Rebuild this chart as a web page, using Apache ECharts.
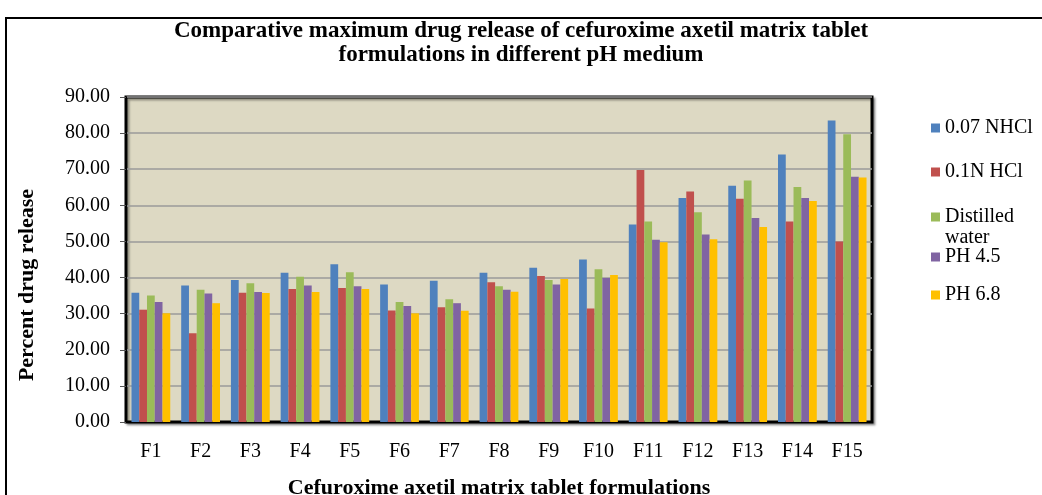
<!DOCTYPE html>
<html>
<head>
<meta charset="utf-8">
<script src="https://cdn.jsdelivr.net/npm/echarts@6/dist/echarts.min.js"></script>
<style>
html,body{margin:0;padding:0;background:#fff;}
#chart{width:1042px;height:495px;}
</style>
</head>
<body>
<div id="chart"></div>
<script>
const categories = ['F1','F2','F3','F4','F5','F6','F7','F8','F9','F10','F11','F12','F13','F14','F15'];
const seriesNames = ['0.07 NHCl','0.1N HCl','Distilled water','PH 4.5','PH 6.8'];
const nhcl007 = [35.8,37.8,39.3,41.3,43.7,38.1,39.1,41.3,42.7,45.0,54.7,62.0,65.4,74.1,83.5];
const nhcl01  = [31.1,24.6,35.8,36.8,37.1,30.9,31.8,38.7,40.4,31.4,69.8,63.8,61.8,55.5,50.0];
const water   = [35.0,36.6,38.4,40.2,41.5,33.2,34.0,37.6,39.3,42.3,55.5,58.1,66.9,65.1,79.7];
const ph45    = [33.2,35.6,36.0,37.8,37.6,32.1,32.9,36.6,38.1,39.9,50.5,51.9,56.5,62.0,67.9];
const ph68    = [30.1,32.9,35.7,36.0,36.8,30.1,30.8,36.1,39.6,40.7,49.8,50.6,54.0,61.2,67.7];
const yTicks = [0,10,20,30,40,50,60,70,80,90];

const values = [nhcl007, nhcl01, water, ph45, ph68];
const colors = ['#4F81BD','#C0504D','#9BBB59','#8064A2','#FFC000'];
const serif = "'Liberation Serif','Times New Roman',serif";

const chart = echarts.init(document.getElementById('chart'));
const legendTops = [118, 162, 207, 247, 285];
const option = {
  animation: false,
  textStyle: {fontFamily: serif},
  title: {
    text: 'Comparative maximum drug release of cefuroxime axetil matrix tablet\nformulations in different pH medium',
    left: 'center', top: 14,
    textStyle: {fontFamily: serif, fontWeight: 'bold', fontSize: 23, lineHeight: 24, color: '#000'}
  },
  legend: seriesNames.map((n, i) => ({
    data: [n], orient: 'vertical', left: 931, top: legendTops[i], padding: 0,
    itemWidth: 9, itemHeight: 9, icon: 'rect', itemGap: 0,
    formatter: (name) => name === 'Distilled water' ? 'Distilled' : name,
    textStyle: {fontFamily: serif, fontSize: 20, lineHeight: 20, color: '#000'}
  })),
  grid: {
    left: 126, top: 97, width: 746, height: 325, outerBoundsMode: 'none', containLabel: false,
    show: true, backgroundColor: '#DDD9C3', borderColor: '#000', borderWidth: 3,
    shadowColor: 'rgba(0,0,0,0.35)', shadowBlur: 2, shadowOffsetX: 2, shadowOffsetY: 2
  },
  xAxis: {
    type: 'category', data: categories,
    name: 'Cefuroxime axetil matrix tablet formulations', nameLocation: 'middle', nameGap: 55,
    nameTextStyle: {fontFamily: serif, fontWeight: 'bold', fontSize: 22, color: '#000'},
    axisLine: {show: true, lineStyle: {color: '#000', width: 2}},
    axisTick: {show: false},
    axisLabel: {fontFamily: serif, fontSize: 20, color: '#000', margin: 20}
  },
  yAxis: {
    type: 'value', min: 0, max: 90, interval: 10,
    axisLine: {show: true, lineStyle: {color: '#000', width: 2}},
    axisTick: {show: true, length: 6, lineStyle: {color: '#555'}},
    axisLabel: {fontFamily: serif, fontSize: 20, color: '#000', margin: 16,
      formatter: v => yTicks.includes(v) ? v.toFixed(2) : ''},
    splitLine: {lineStyle: {color: '#9A9A9A', width: 1.5}}
  },
  graphic: [
    {type: 'rect', shape: {x: 6, y: 18, width: 1060, height: 500},
     style: {fill: 'none', stroke: '#000', lineWidth: 2}, silent: true, z: -10},
    {type: 'text', x: 945, y: 228, style: {text: 'water', font: "20px 'Liberation Serif','Times New Roman',serif", fill: '#000'}},
    {type: 'text', x: 27, y: 285, rotation: Math.PI / 2, originX: 0, originY: 0,
     style: {text: 'Percent drug release', font: "bold 22px 'Liberation Serif','Times New Roman',serif",
             fill: '#000', align: 'center', verticalAlign: 'middle'}}
  ],
  series: seriesNames.map((n, i) => ({
    name: n, type: 'bar', data: values[i],
    barGap: '0%', barCategoryGap: '22%',
    itemStyle: {color: colors[i]}
  }))
};
chart.setOption(option);
</script>
</body>
</html>
